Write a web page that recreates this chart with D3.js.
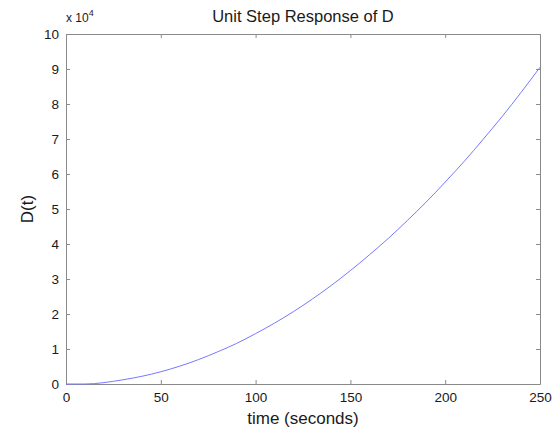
<!DOCTYPE html>
<html>
<head>
<meta charset="utf-8">
<title>Unit Step Response of D</title>
<script src="https://d3js.org/d3.v7.min.js"></script>
<style>
  body { margin: 0; background: #fff; }
  svg text { font-family: "Liberation Sans", Arial, sans-serif; fill: #1a1a1a; }
  .axis path, .axis line { stroke: #8a8a8a; }
</style>
</head>
<body>
<div id="chart"></div>
<script>
// dados (D em unidades de 1e4)
var tempos = [0, 10, 15, 20, 30, 40, 50, 60, 70, 80, 90, 100, 110, 120, 130, 140, 150, 160, 170, 180, 190, 200, 210, 220, 230, 240, 250];
var valoresD = [0, 0, 0.01, 0.04, 0.12, 0.22, 0.35, 0.51, 0.70, 0.92, 1.16, 1.44, 1.74, 2.07, 2.43, 2.82, 3.24, 3.69, 4.16, 4.67, 5.20, 5.77, 6.36, 6.99, 7.64, 8.33, 9.05];
var ticksX = [0, 50, 100, 150, 200, 250];
var ticksY = [0, 1, 2, 3, 4, 5, 6, 7, 8, 9, 10];

var larguraSVG = 557, alturaSVG = 435;
var margin = {top: 34, right: 17, bottom: 51, left: 66};
var larguraVis = larguraSVG - margin.left - margin.right,
    alturaVis = alturaSVG - margin.top - margin.bottom;

var svg = d3.select('#chart').append('svg')
  .attr('width', larguraSVG)
  .attr('height', alturaSVG);
var grafico = svg.append('g')
  .attr('transform', 'translate(' + margin.left + ',' + margin.top + ')');

var x = d3.scaleLinear().domain([0, 250]).range([0, larguraVis]);
var y = d3.scaleLinear().domain([0, 10]).range([alturaVis, 0]);

// eixos com ticks para dentro (estilo matlab)
grafico.append('g').attr('class', 'axis')
  .attr('transform', 'translate(0,' + alturaVis + ')')
  .call(d3.axisBottom(x).tickValues(ticksX).tickSize(-4).tickSizeOuter(0).tickPadding(8))
  .selectAll('text').style('font-size', '13.5px');
grafico.append('g').attr('class', 'axis')
  .call(d3.axisTop(x).tickValues(ticksX).tickSize(-4).tickSizeOuter(0).tickFormat(''));
grafico.append('g').attr('class', 'axis')
  .call(d3.axisLeft(y).tickValues(ticksY).tickSize(-4).tickSizeOuter(0).tickPadding(7))
  .selectAll('text').style('font-size', '13.5px');
grafico.append('g').attr('class', 'axis')
  .attr('transform', 'translate(' + larguraVis + ',0)')
  .call(d3.axisRight(y).tickValues(ticksY).tickSize(-4).tickSizeOuter(0).tickFormat(''));
grafico.selectAll('.axis .domain').attr('stroke', '#8a8a8a');

// curva
var linha = d3.line()
  .x(function (d, i) { return x(tempos[i]); })
  .y(function (d) { return y(d); })
  .curve(d3.curveMonotoneX);
grafico.append('path')
  .datum(valoresD)
  .attr('fill', 'none')
  .attr('stroke', '#7878ff')
  .attr('stroke-width', 1)
  .attr('d', linha);

// textos
svg.append('text')
  .attr('x', margin.left + larguraVis / 2).attr('y', 22)
  .attr('text-anchor', 'middle').style('font-size', '16.5px')
  .text('Unit Step Response of D');
var mult = svg.append('text').attr('x', 66).attr('y', 22).style('font-size', '12px');
mult.append('tspan').text('x 10');
mult.append('tspan').attr('dy', -6).style('font-size', '9px').text('4');
svg.append('text')
  .attr('x', margin.left + larguraVis / 2).attr('y', 424)
  .attr('text-anchor', 'middle').style('font-size', '17px')
  .text('time (seconds)');
svg.append('text')
  .attr('transform', 'translate(33,' + (margin.top + alturaVis / 2) + ') rotate(-90)')
  .attr('text-anchor', 'middle').style('font-size', '17px')
  .text('D(t)');
</script>
</body>
</html>
